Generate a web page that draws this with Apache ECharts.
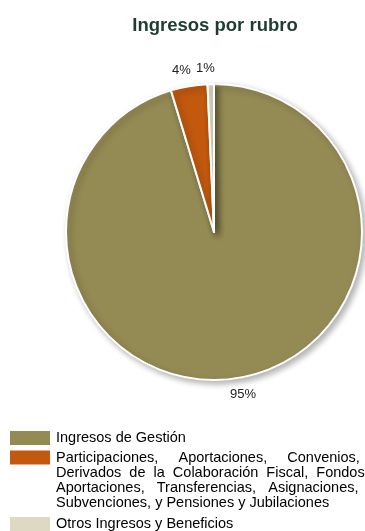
<!DOCTYPE html>
<html>
<head>
    <meta charset="utf-8" />
    <title>Ingresos por rubro</title>
    <style type="text/css">
        html, body {
            margin: 0;
            padding: 0;
            width: 100%;
            height: 100%;
            background-color: #fff;
            overflow: hidden;
        }

        #chart {
            width: 365px;
            height: 531px;
        }
    </style>
</head>
<body>
    <div id="chart"></div>
    <script src="https://cdn.jsdelivr.net/npm/echarts@6/dist/echarts.min.js"></script>
    <script type="text/javascript">
        // datos
        var rubros = [
            'Ingresos de Gestión',
            'Participaciones, Aportaciones, Convenios, Derivados de la Colaboración Fiscal, Fondos Aportaciones, Transferencias, Asignaciones, Subvenciones, y Pensiones y Jubilaciones',
            'Otros Ingresos y Beneficios'
        ];
        var valores = [95.3, 4.0, 0.7];
        var colores = ['#948a54', '#c2590f', '#ddd9c3'];
        // texto de la leyenda con saltos de línea (justificado a mano con espacios)
        var textosLeyenda = [
            'Ingresos de Gestión',
            '\n\n\nParticipaciones,     Aportaciones,     Convenios,\nDerivados  de  la  Colaboración  Fiscal,  Fondos\nAportaciones,   Transferencias,   Asignaciones,\nSubvenciones, y Pensiones y Jubilaciones',
            'Otros Ingresos y Beneficios'
        ];
        var topsLeyenda = [429, 405, 515];

        var font = 'Arial, "Liberation Sans", sans-serif';
        var centro = [214, 232];

        var legends = [];
        for (var i = 0; i < rubros.length; i++) {
            legends.push({
                data: [rubros[i]],
                orient: 'vertical',
                left: 8,
                top: topsLeyenda[i],
                padding: 0,
                itemWidth: 42,
                itemHeight: 16,
                itemGap: 0,
                icon: 'rect',
                selectedMode: false,
                formatter: (function (t) { return function () { return t; }; })(textosLeyenda[i]),
                textStyle: { fontFamily: font, fontSize: 14.5, color: '#000', lineHeight: 15 }
            });
        }

        var option = {
            animation: false,
            color: colores,
            title: {
                text: 'Ingresos por rubro',
                left: 210,
                top: 11,
                textAlign: 'center',
                textStyle: { fontFamily: font, fontSize: 18.5, fontWeight: 'bold', color: '#1e3b34' }
            },
            legend: legends,
            series: [{
                type: 'pie',
                center: centro,
                radius: 148,
                startAngle: 90,
                clockwise: true,
                percentPrecision: 0,
                avoidLabelOverlap: false,
                itemStyle: {
                    borderColor: '#fff',
                    borderWidth: 2,
                    shadowBlur: 6,
                    shadowOffsetX: 3,
                    shadowOffsetY: 3,
                    shadowColor: 'rgba(0,0,0,0.3)'
                },
                label: {
                    position: 'outside',
                    formatter: '{d}%',
                    fontFamily: font,
                    fontSize: 13,
                    color: '#222'
                },
                labelLine: { show: false, length: 16, length2: 0 },
                // etiqueta centrada sobre su punto de anclaje
                labelLayout: function (p) {
                    var r = p.labelRect;
                    var derecha = r.x + r.width / 2 > centro[0];
                    var x = derecha ? r.x - r.width / 2 : r.x + 1.5 * r.width;
                    return { x: x };
                },
                data: rubros.map(function (n, i) {
                    return { name: n, value: valores[i] };
                })
            }]
        };

        var myChart = echarts.init(document.getElementById('chart'), null, { renderer: 'canvas' });
        myChart.setOption(option);
        window.onresize = myChart.resize;
    </script>
</body>
</html>
